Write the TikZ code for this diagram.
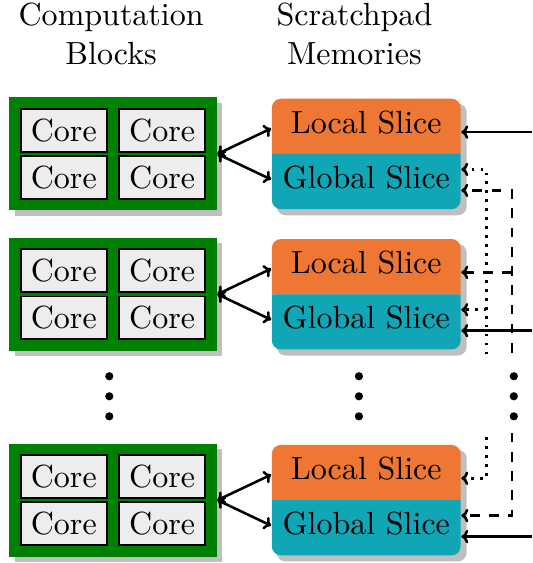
\documentclass[tikz,border=0pt]{standalone}
\usetikzlibrary{shapes.multipart,shadows,calc,backgrounds,arrows.meta}
\definecolor{memorange}{HTML}{EE7733}
\definecolor{memteal}{HTML}{10A6B5}
\newcommand{\memstrut}{\rule[-2.8pt]{0pt}{2.8pt}}
\begin{document}
\begin{tikzpicture}[
    >={To[width=4.2pt,length=2.2pt]},
    shade/.style={drop shadow={shadow xshift=0.06cm, shadow yshift=-0.06cm, fill=black!25, opacity=1}},
    block/.style={fill=green!50!black, minimum width=2.28cm, minimum height=1.24cm, shade},
    core/.style={draw, semithick, fill=black!7, minimum width=0.94cm, minimum height=0.47cm, inner sep=0pt},
    memory/.style={rectangle split, rectangle split parts=2, rectangle split part fill={memorange,memteal},
      rounded corners=0.1cm, minimum width=2.06cm, inner ysep=3.5pt},
    link/.style={thick, <->},
    feed/.style={thick, ->}]
  \useasboundingbox (0,0) rectangle (5.84,-6.18);
  \node[align=center] (blocktitle) at (1.22,-0.37) {Computation\\Blocks};
  \node[align=center] (memtitle) at (3.89,-0.37) {Scratchpad\\Memories};
  \foreach \i/\y in {1/-1.69, 2/-3.23, 3/-5.49} {
    \node[block] (b\i) at (1.24,\y) {};
    \node[core] (c\i a) at ($(b\i)+(-0.54,0.26)$) {Core};
    \node[core] (c\i b) at ($(b\i)+(0.54,0.26)$) {Core};
    \node[core] (c\i c) at ($(b\i)+(-0.54,-0.26)$) {Core};
    \node[core] (c\i d) at ($(b\i)+(0.54,-0.26)$) {Core};
    \node[memory] (m\i) at (4.02,\y) {\memstrut Local Slice \nodepart{two}\memstrut Global Slice};
    \begin{scope}[on background layer]
      \fill[black!25, rounded corners=0.1cm] ($(m\i.north west)+(0.06,-0.06)$) rectangle ($(m\i.south east)+(0.06,-0.06)$);
    \end{scope}
    \coordinate (lw\i) at ($(m\i.west)+(0,0.28)$);
    \coordinate (gw\i) at ($(m\i.west)+(0,-0.28)$);
    \draw[link] (b\i.east) -- (lw\i);
    \draw[link] (b\i.east) -- (gw\i);
    \coordinate (la\i) at ($(m\i.east)+(0,0.24)$);
    \coordinate (ga\i) at ($(m\i.east)+(0,-0.17)$);
    \coordinate (gb\i) at ($(m\i.east)+(0,-0.40)$);
  }
  \foreach \x in {1.20,3.94,5.64}
    \foreach \d in {-4.13,-4.35,-4.57}
      \fill (\x,\d) circle (0.045);
  \coordinate (edge) at (5.84,0);
  \coordinate (dottop) at (5.34,-3.89);
  \coordinate (dotbot) at (5.34,-4.80);
  \coordinate (dashtop) at (5.62,-3.87);
  \coordinate (dashbot) at (5.62,-4.75);
  \draw[feed] (la1 -| edge) -- (la1);
  \draw[feed] (gb2 -| edge) -- (gb2);
  \draw[feed] (gb3 -| edge) -- (gb3);
  \draw[feed, dotted] (dottop) |- (ga1);
  \draw[feed, dotted] (dottop |- ga2) -- (ga2);
  \draw[feed, dotted] (dotbot) |- (la3);
  \draw[feed, dashed] (dashtop) |- (gb1);
  \draw[feed, dashed] (dashtop |- la2) -- (la2);
  \draw[feed, dashed] (dashbot) |- (ga3);
\end{tikzpicture}
\end{document}
